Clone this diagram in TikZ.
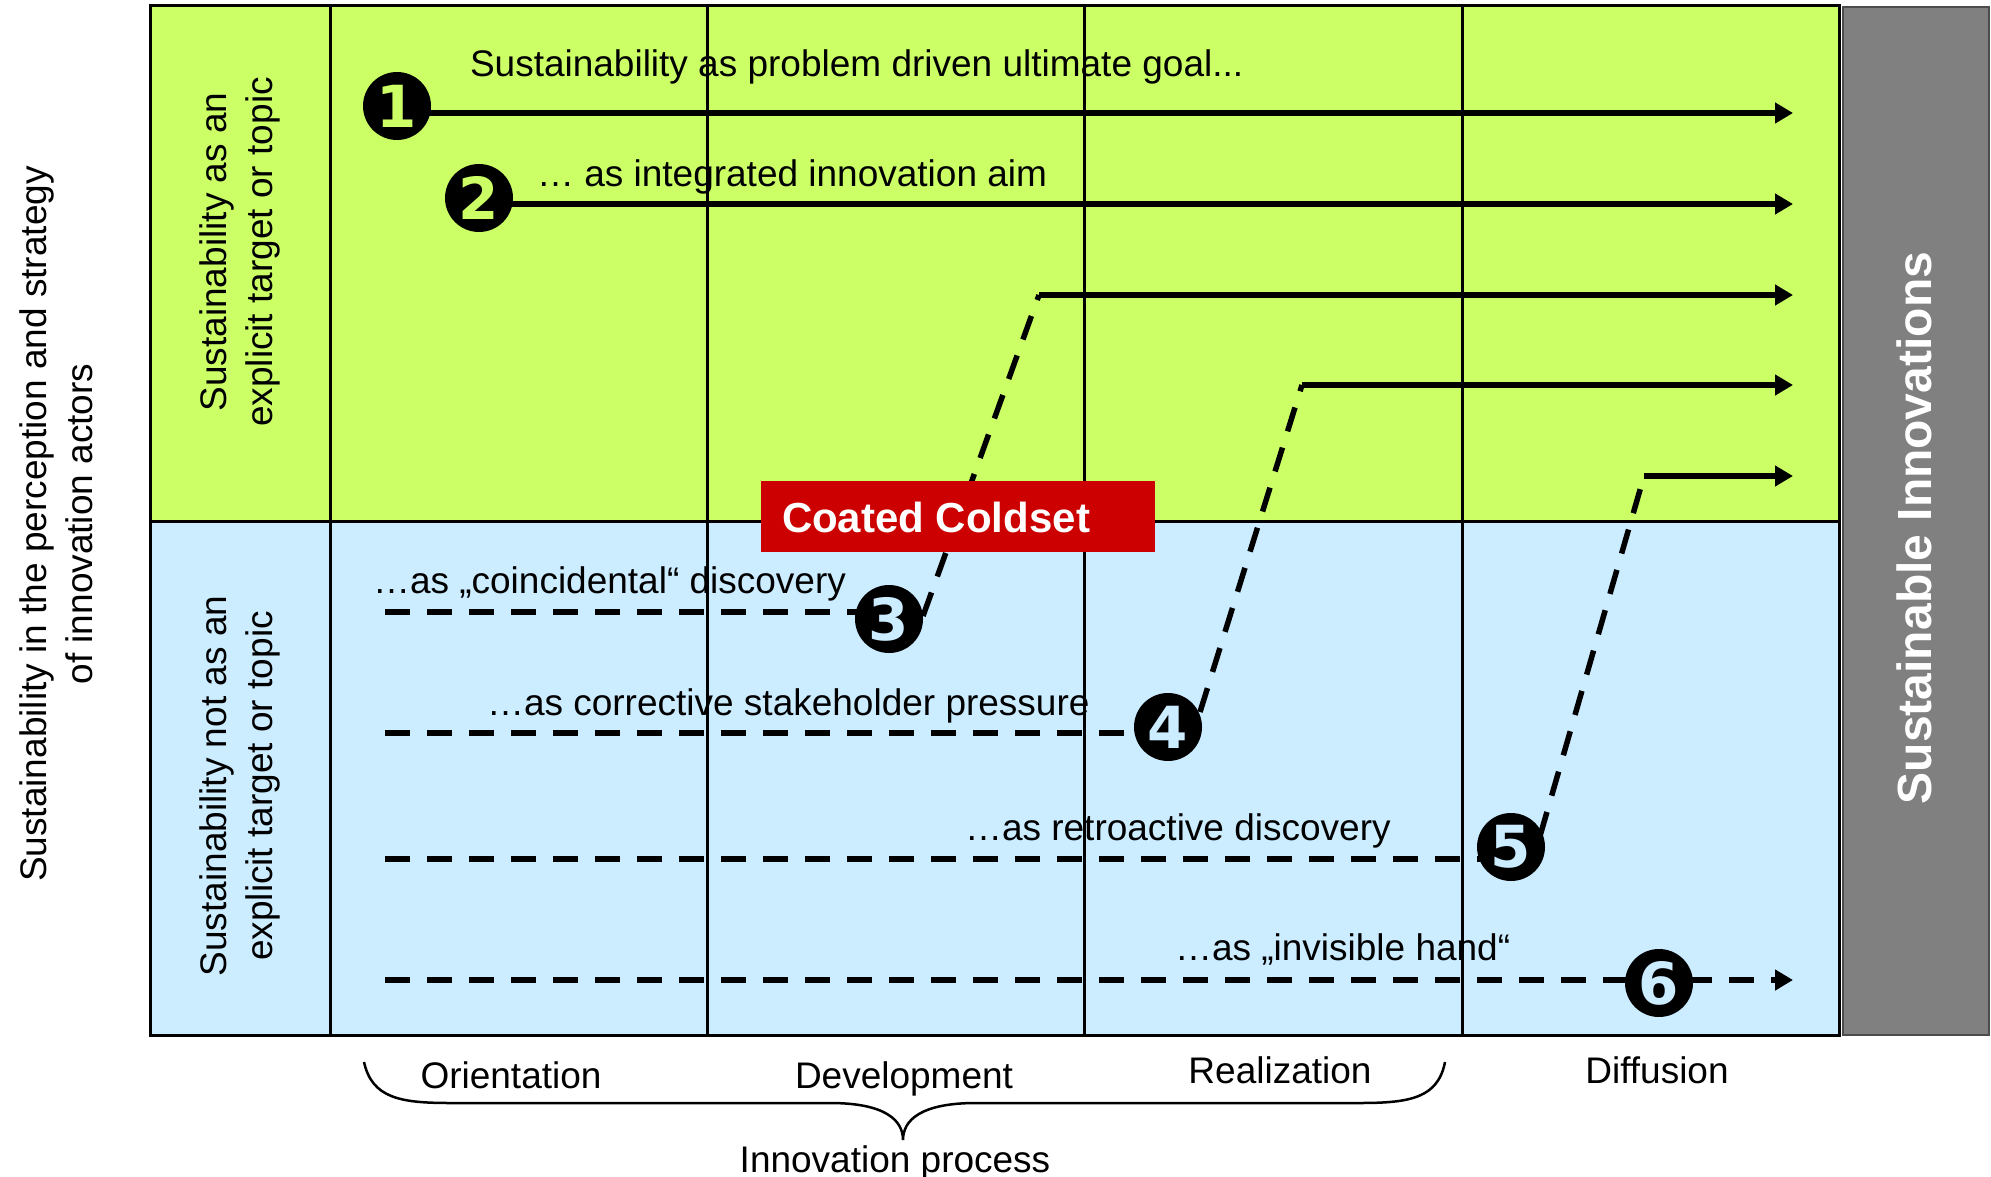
\documentclass[tikz,border=0pt]{standalone}
\usepackage{fontspec}
\setmainfont{Liberation Sans}
\newfontfamily\digitfont{DejaVu Sans}
\usetikzlibrary{arrows.meta}
\definecolor{lgreen}{RGB}{204,255,102}
\definecolor{lblue}{RGB}{204,236,255}
\definecolor{greybox}{RGB}{128,128,128}
\definecolor{redbox}{RGB}{204,0,0}
\begin{document}
\begin{tikzpicture}[x=1pt,y=-1pt,
  every node/.style={inner sep=0pt, outer sep=0pt},
  lbl/.style={font=\fontsize{37}{46}\selectfont},
  gridline/.style={line width=3pt},
  solidarrow/.style={line width=5.5pt, -{Triangle[length=18pt,width=20pt]}},
  dashline/.style={line width=5.5pt, dash pattern=on 25pt off 17pt},
  numcirc/.style={circle, fill=black, minimum size=68pt, font=\digitfont\fontsize{58}{58}\selectfont\bfseries},
]
\useasboundingbox (0,0) rectangle (1991,1177);
% backgrounds
\fill[lgreen] (150,6) rectangle (1839,521);
\fill[lblue] (150,521) rectangle (1839,1035);
\draw[fill=greybox, draw=gray!60!black, line width=1.5pt] (1843,7) rectangle (1989,1035);
% grid
\draw[gridline] (150,6) rectangle (1839,1035);
\draw[gridline] (150,521) -- (1839,521);
\foreach \xx in {330,707,1084,1462} \draw[gridline] (\xx,6) -- (\xx,1035);

% coordinates
\coordinate (e1) at (1793,113);
\coordinate (e2) at (1793,204);
\coordinate (s3) at (1039,295); \coordinate (e3) at (1793,295);
\coordinate (s4) at (1302,385); \coordinate (e4) at (1793,385);
\coordinate (s5) at (1644,476); \coordinate (e5) at (1793,476);
\coordinate (e6) at (1793,980);
\coordinate (h3) at (385,612); \coordinate (h4) at (385,733);
\coordinate (h5) at (385,859); \coordinate (h6) at (385,980);
\coordinate (p3) at (923,616); \coordinate (p4) at (1200,712); \coordinate (p5) at (1540,836);

% circle positions (circles drawn later, on top)
\path (397,106) coordinate (c1pos) (479,198) coordinate (c2pos) (889,619) coordinate (c3pos)
      (1168,727) coordinate (c4pos) (1511,847) coordinate (c5pos) (1659,983) coordinate (c6pos);

% solid arrows
\draw[solidarrow] (c1pos |- e1) -- (e1);
\draw[solidarrow] (c2pos |- e2) -- (e2);
\draw[solidarrow] (s3) -- (e3);
\draw[solidarrow] (s4) -- (e4);
\draw[solidarrow] (s5) -- (e5);
% dashed lines
\draw[dashline] (h3) -- (c3pos |- h3);
\draw[dashline] (p3) -- (s3);
\draw[dashline] (h4) -- (c4pos |- h4);
\draw[dashline] (p4) -- (s4);
\draw[dashline] (h5) -- (c5pos |- h5);
\draw[dashline] (p5) -- (s5);
\draw[dashline, -{Triangle[length=18pt,width=20pt]}] (h6) -- (e6);

% numbered circles
\node[numcirc, text=lgreen] (c1) at (c1pos) {1};
\node[numcirc, text=lgreen] (c2) at (c2pos) {2};
\node[numcirc, text=lblue] (c3) at (c3pos) {3};
\node[numcirc, text=lblue] (c4) at (c4pos) {4};
\node[numcirc, text=lblue] (c5) at (c5pos) {5};
\node[numcirc, text=lblue] (c6) at (c6pos) {6};

% texts
\node[lbl, anchor=base west] (t1) at (470,77) {Sustainability as problem driven ultimate goal...};
\node[lbl, anchor=base west] (t2) at (537,186) {… as integrated innovation aim};
\node[lbl, anchor=base west] (t3) at (373,593) {…as „coincidental“ discovery};
\node[lbl, anchor=base west] (t4) at (487,715) {…as corrective stakeholder pressure};
\node[lbl, anchor=base west] (t5) at (965,840) {…as retroactive discovery};
\node[lbl, anchor=base west] (t6) at (1175,960) {…as „invisible hand“};

% red box
\node[fill=redbox, minimum width=394pt, minimum height=71pt, anchor=north west] (cc) at (761,481) {};
\node[anchor=base west, text=white, font=\fontsize{42}{42}\selectfont\bfseries] (cct) at (782,532) {Coated Coldset};

% rotated labels
\node[lbl, rotate=90, align=center] (ylab) at (56,524) {Sustainability in the perception and strategy\\of innovation actors};
\node[lbl, rotate=90, align=center] (row1) at (240,252) {Sustainability as an\\explicit target or topic};
\node[lbl, rotate=90, align=center] (row2) at (240,786) {Sustainability not as an\\explicit target or topic};
\node[rotate=90, text=white, font=\fontsize{48}{48}\selectfont\bfseries] (si) at (1914,528) {Sustainable Innovations};

% column labels
\node[lbl, anchor=base] (col1) at (511,1088) {Orientation};
\node[lbl, anchor=base] (col2) at (904,1088) {Development};
\node[lbl, anchor=base] (col3) at (1280,1083) {Realization};
\node[lbl, anchor=base] (col4) at (1657,1083) {Diffusion};
\node[lbl, anchor=base] (ip) at (895,1172) {Innovation process};

% brace
\coordinate (bl) at (364,1062); \coordinate (br) at (1445,1062); \coordinate (bt) at (903,1140);
\draw[line width=2.5pt] (bl) .. controls (372,1098) and (400,1103) .. (450,1103) -- (830,1103)
  .. controls (885,1103) and (903,1120) .. (bt)
  .. controls (903,1120) and (921,1103) .. (976,1103) -- (1360,1103)
  .. controls (1410,1103) and (1438,1098) .. (br);
\end{tikzpicture}
\end{document}
